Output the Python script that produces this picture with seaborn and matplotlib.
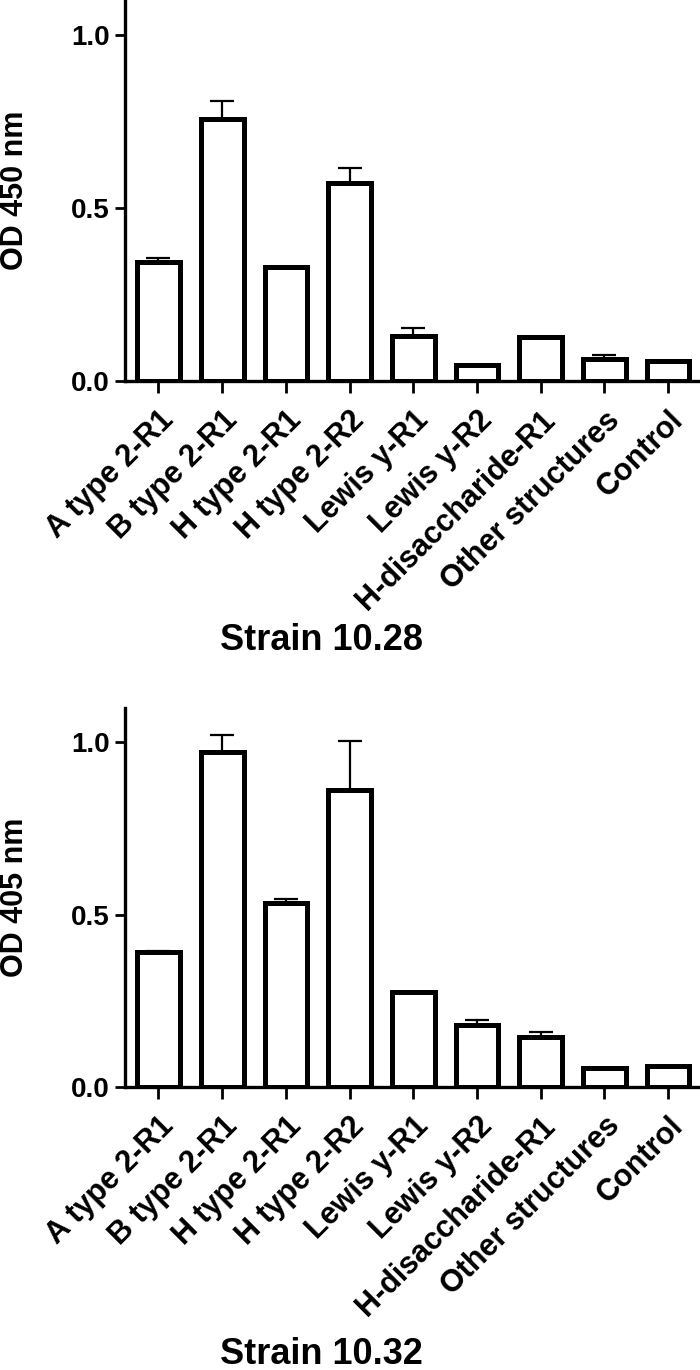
import matplotlib
matplotlib.use("Agg")
import matplotlib.pyplot as plt
import seaborn as sns
import numpy as np
import pandas as pd

categories = ["A type 2-R1", "B type 2-R1", "H type 2-R1", "H type 2-R2",
              "Lewis y-R1", "Lewis y-R2", "H-disaccharide-R1",
              "Other structures", "Control"]

top_means = [0.343, 0.757, 0.328, 0.572, 0.131, 0.046, 0.128, 0.064, 0.058]
top_errs = [0.011, 0.052, 0.0, 0.044, 0.022, 0.0, 0.0, 0.011, 0.0]

bottom_means = [0.392, 0.973, 0.535, 0.861, 0.274, 0.179, 0.145, 0.055, 0.060]
bottom_errs = [0.002, 0.050, 0.009, 0.143, 0.0, 0.015, 0.013, 0.0, 0.0]

yticks = [0.0, 0.5, 1.0]
ytick_labels = ["0.0", "0.5", "1.0"]
ylabels = ["OD 450 nm", "OD 405 nm"]
titles = ["Strain 10.28", "Strain 10.32"]

sns.set_style("ticks")
plt.rcParams['font.family'] = ['Liberation Sans', 'DejaVu Sans']
plt.rcParams['font.weight'] = 'bold'
plt.rcParams['text.color'] = 'black'
plt.rcParams['axes.labelcolor'] = 'black'
plt.rcParams['xtick.color'] = 'black'
plt.rcParams['ytick.color'] = 'black'

fig = plt.figure(figsize=(7, 13.7), dpi=100)
W, H = 700, 1370

def make_ax(left_px, top_px, bottom_px):
    return fig.add_axes([left_px / W, 1 - bottom_px / H,
                         (W - left_px) / W, (bottom_px - top_px) / H])

axes = [make_ax(125, 0, 381), make_ax(125, 708, 1086.7)]
data = [(top_means, top_errs), (bottom_means, bottom_errs)]
title_y = [641, 1355]

for ax, (means, errs), ylab, ttl, ty in zip(axes, data, ylabels, titles, title_y):
    df = pd.DataFrame({"cat": categories, "val": means})
    sns.barplot(data=df, x="cat", y="val", ax=ax, color="white",
                edgecolor="black", linewidth=3.6, width=0.67, errorbar=None,
                saturation=1)
    x = np.arange(len(categories))
    lower = np.zeros(len(errs))
    ax.errorbar(x, means, yerr=[lower, errs], fmt="none", ecolor="black",
                elinewidth=1.6, capsize=8.5, capthick=1.6, zorder=1)
    ax.set_xlim(-0.525, 8.5)
    ax.set_ylim(0, 1.1)
    ax.set_yticks(yticks)
    ax.set_yticklabels(ytick_labels, fontsize=20, fontweight="bold",
                       color="black")
    ax.set_xticks(x)
    ax.set_xticklabels(categories, rotation=45, ha="right", va="top",
                       rotation_mode="anchor", fontsize=22, fontweight="bold",
                       color="black")
    ax.set_xlabel("")
    ax.set_ylabel(ylab, fontsize=22, fontweight="bold", color="black",
                  va="center")
    ax.yaxis.set_label_coords(-0.191, 0.5)
    for s in ["top", "right"]:
        ax.spines[s].set_visible(False)
    for s in ["left", "bottom"]:
        ax.spines[s].set_linewidth(2.4)
        ax.spines[s].set_color("black")
    ax.tick_params(axis="y", width=2.0, length=7.2, pad=3.6)
    ax.tick_params(axis="x", width=2.0, length=8.6, pad=9)
    fig.text(321 / W, 1 - ty / H, ttl, ha="center", va="center",
             fontsize=26, fontweight="bold", color="black")

fig.savefig("out.png", dpi=100)
